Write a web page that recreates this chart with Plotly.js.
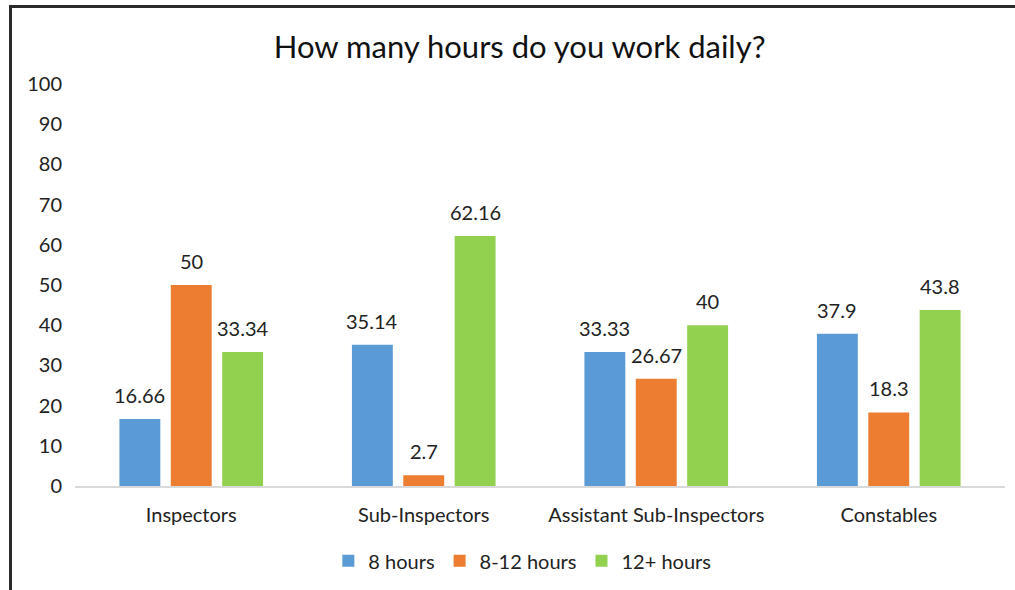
<!DOCTYPE html>
<html><head><meta charset="utf-8">
<script src="https://cdn.plot.ly/plotly-3.0.1.min.js"></script>
<style>
html,body{margin:0;padding:0;background:#fff;}
#wrap{position:relative;width:1015px;height:590px;}
#chart{width:1015px;height:590px;}
#bt{position:absolute;left:9px;top:5px;width:1006px;height:3px;background:#2b2b2b;}
#bl{position:absolute;left:9px;top:5px;width:3px;height:585px;background:#2b2b2b;}
</style></head>
<body><div id="wrap"><div id="chart"></div><div id="bt"></div><div id="bl"></div></div>
<script>
var categories = ["Inspectors", "Sub-Inspectors", "Assistant Sub-Inspectors", "Constables"];
var seriesNames = ["8 hours", "8-12 hours", "12+ hours"];
var hours8 = [16.66, 35.14, 33.33, 37.9];
var hours8to12 = [50, 2.7, 26.67, 18.3];
var hours12plus = [33.34, 62.16, 40, 43.8];
var colors = ["#5B9BD5", "#ED7D31", "#92D050"];
var yTicks = [0,10,20,30,40,50,60,70,80,90,100];

var font = "Lato, 'Noto Sans', sans-serif";
var bargap = 0.337, bargroupgap = 0.204;
var vals = [hours8, hours8to12, hours12plus];
var traces = vals.map(function(v,i){
  return {type:'bar', x:categories, y:v, name:seriesNames[i],
    marker:{color:colors[i]}, hoverinfo:'none'};
});
// data labels placed through the axes (category index + group slot offset)
var slot = (1 - bargap) / vals.length;
var annotations = [];
vals.forEach(function(v,i){
  v.forEach(function(val,c){
    annotations.push({xref:'x', yref:'y', x:c + (i - (vals.length-1)/2)*slot, y:val,
      text:String(val), showarrow:false, yanchor:'middle', yshift:24,
      font:{family:font,size:20,color:'#222'}});
  });
});
Plotly.newPlot('chart', traces, {
  width:1015, height:590,
  margin:{l:75,r:10,t:84,b:102},
  barmode:'group', bargap:bargap, bargroupgap:bargroupgap,
  title:{text:"How many hours do you work daily?", font:{family:font,size:31,color:'#111'}, x:0.512, xanchor:'center', y:0.92, yanchor:'middle'},
  xaxis:{showline:true, linecolor:'#d9d9d9', linewidth:2, ticks:'', ticklabelstandoff:10, tickfont:{family:font,size:20,color:'#222'}},
  yaxis:{range:[0,100], tickvals:yTicks, showgrid:false, zeroline:false, showline:false, ticks:'', ticklabelstandoff:12, tickfont:{family:font,size:20,color:'#222'}},
  legend:{orientation:'h', x:0.481, xanchor:'center', y:-0.186, yanchor:'middle', itemwidth:30, font:{family:font,size:20,color:'#222'}},
  annotations:annotations,
  showlegend:true, plot_bgcolor:'#fff', paper_bgcolor:'#fff'
}, {displayModeBar:false, staticPlot:true});
</script></body></html>
